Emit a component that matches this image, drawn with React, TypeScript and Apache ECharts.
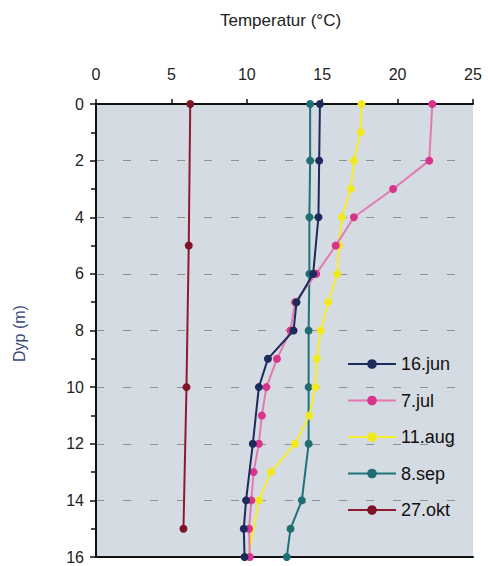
import React, { useEffect, useRef } from "react";
import * as echarts from "echarts";

// Depth (m) and temperature (°C) profiles per sampling date
const depthsJun = [0, 2, 4, 6, 7, 8, 9, 10, 12, 14, 15, 16];
const tempJun = [14.85, 14.8, 14.75, 14.4, 13.3, 13.1, 11.4, 10.8, 10.4, 9.95, 9.8, 9.85];

const depthsJul = [0, 2, 3, 4, 5, 6, 7, 8, 9, 10, 11, 12, 13, 14, 15, 16];
const tempJul = [22.3, 22.1, 19.7, 17.1, 15.9, 14.6, 13.2, 12.9, 12.0, 11.3, 11.0, 10.8, 10.45, 10.3, 10.15, 10.2];

const depthsAug = [0, 1, 2, 3, 4, 5, 6, 7, 8, 9, 10, 11, 12, 13, 14, 16];
const tempAug = [17.6, 17.55, 17.1, 16.9, 16.3, 16.1, 16.0, 15.4, 14.9, 14.65, 14.55, 14.15, 13.2, 11.6, 10.8, 10.1];

const depthsSep = [0, 2, 4, 6, 8, 10, 12, 14, 15, 16];
const tempSep = [14.2, 14.2, 14.15, 14.15, 14.1, 14.1, 14.1, 13.65, 12.9, 12.65];

const depthsOkt = [0, 5, 10, 15];
const tempOkt = [6.25, 6.15, 6.0, 5.8];

const seriesNames = ["16.jun", "7.jul", "11.aug", "8.sep", "27.okt"];
const xTicks = [0, 5, 10, 15, 20, 25];
const yTicks = [0, 2, 4, 6, 8, 10, 12, 14, 16];

const FONT = "'Liberation Sans', Arial, sans-serif";

function pairs(temps: number[], depths: number[]) {
  return temps.map((t, i) => [t, depths[i]]);
}

export default function App() {
  const ref = useRef<HTMLDivElement>(null);

  useEffect(() => {
    if (!ref.current) return;
    const chart = echarts.init(ref.current, undefined, { renderer: "svg" });

    const profiles = [
      { data: pairs(tempJun, depthsJun), line: "#1c2a5c", dot: "#1c2a5c" },
      { data: pairs(tempJul, depthsJul), line: "#e27ab0", dot: "#d8358a" },
      { data: pairs(tempAug, depthsAug), line: "#f6ee2c", dot: "#f2e820" },
      { data: pairs(tempSep, depthsSep), line: "#1e7378", dot: "#1e6e72" },
      { data: pairs(tempOkt, depthsOkt), line: "#8e1a30", dot: "#7e1428" },
    ];

    chart.setOption({
      animation: false,
      backgroundColor: "#ffffff",
      textStyle: { fontFamily: FONT },
      graphic: [
        {
          type: "text",
          left: 220,
          top: 12,
          style: { text: "Temperatur (°C)", fontSize: 17, fill: "#222", fontFamily: FONT },
        },
        {
          type: "text",
          x: 11,
          y: 362,
          rotation: Math.PI / 2,
          style: { text: "Dyp (m)", fontSize: 16, fill: "#3a4a7a", fontFamily: FONT },
        },
      ],
      grid: {
        left: 96,
        right: 15,
        top: 104,
        bottom: 9,
        show: true,
        backgroundColor: "#d5dbe2",
        borderWidth: 0,
      },
      legend: {
        orient: "vertical",
        left: 342,
        top: 350,
        itemWidth: 48,
        itemHeight: 12,
        itemGap: 18.5,
        data: seriesNames,
        textStyle: { fontSize: 18, color: "#111", fontFamily: FONT },
      },
      xAxis: [
        {
          type: "value",
          position: "top",
          min: xTicks[0],
          max: xTicks[xTicks.length - 1],
          interval: 5,
          axisLine: { show: true, lineStyle: { color: "#111", width: 2 } },
          axisTick: { show: true, length: 5, lineStyle: { color: "#111", width: 1.5 } },
          axisLabel: { fontSize: 16, color: "#222", margin: 22 },
          splitLine: { show: false },
        },
        {
          type: "value",
          position: "bottom",
          min: 0,
          max: 25,
          interval: 5,
          axisLine: { show: true, lineStyle: { color: "#111", width: 2 } },
          axisTick: { show: false },
          axisLabel: { show: false },
          splitLine: { show: false },
        },
      ],
      yAxis: {
        type: "value",
        inverse: true,
        min: yTicks[0],
        max: yTicks[yTicks.length - 1],
        interval: 2,
        axisLine: { show: true, lineStyle: { color: "#111", width: 2 } },
        axisTick: { show: true, length: 6, lineStyle: { color: "#111", width: 1.5 } },
        minorTick: { show: true, splitNumber: 2, length: 5, lineStyle: { color: "#111", width: 1.5 } },
        axisLabel: { fontSize: 16, color: "#222", margin: 12 },
        splitLine: {
          show: true,
          lineStyle: { color: "#8c9196", type: [8, 19], width: 1.2 },
        },
      },
      series: profiles.map((p, i) => ({
        name: seriesNames[i],
        type: "line",
        xAxisIndex: 0,
        data: p.data,
        symbol: "circle",
        symbolSize: 8,
        showSymbol: true,
        lineStyle: { color: p.line, width: 2 },
        itemStyle: { color: p.dot, borderWidth: 0 },
        z: 10 - i,
      })),
    });

    return () => chart.dispose();
  }, []);

  return (
    <div
      ref={ref}
      style={{ position: "fixed", left: 0, top: 0, width: 488, height: 566 }}
    />
  );
}
